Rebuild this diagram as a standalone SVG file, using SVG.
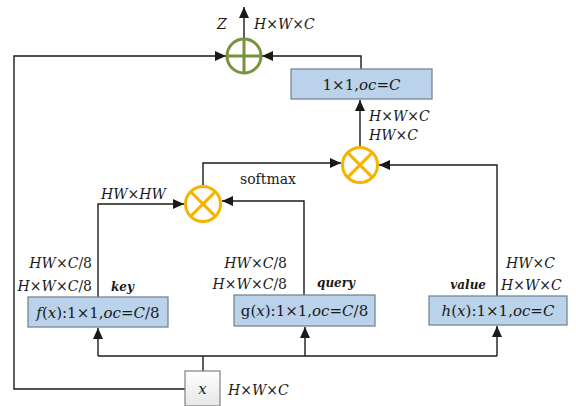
<svg xmlns="http://www.w3.org/2000/svg" width="576" height="406" viewBox="0 0 576 406">
<style>
.ln{fill:none;stroke:#1a1a1a;stroke-width:1.4}
.box{fill:#BAD3EA;stroke:#6F7E8E;stroke-width:1.2}
.t{font-family:"DejaVu Serif","Liberation Serif",serif;font-size:14px;fill:#1a1a1a}
.bt{font-family:"DejaVu Serif","Liberation Serif",serif;font-size:15px;fill:#1a1a1a}
.i{font-style:italic}
.bi{font-family:"DejaVu Serif","Liberation Serif",serif;font-size:12px;font-weight:bold;font-style:italic;fill:#1a1a1a}
</style>
<defs>
<marker id="ah" markerUnits="userSpaceOnUse" markerWidth="12" markerHeight="10" refX="11" refY="5" orient="auto">
<path d="M0,0 L11,5 L0,10 z" fill="#1a1a1a"/>
</marker>
<linearGradient id="xg" x1="0" y1="0" x2="0" y2="1">
<stop offset="0" stop-color="#ffffff"/><stop offset="1" stop-color="#e6e6e6"/>
</linearGradient>
</defs>
<g id="connectors">
<path class="ln" d="M244,39 V7" marker-end="url(#ah)"/>
<path class="ln" d="M185,389 H14 V56 H226" marker-end="url(#ah)"/>
<path class="ln" d="M361,69 V56 H262" marker-end="url(#ah)"/>
<path class="ln" d="M360,147 V100" marker-end="url(#ah)"/>
<path class="ln" d="M203,186 V163 H341" marker-end="url(#ah)"/>
<path class="ln" d="M497,296 V165 H379" marker-end="url(#ah)"/>
<path class="ln" d="M304,295 V201 H222" marker-end="url(#ah)"/>
<path class="ln" d="M98,297 V204 H184" marker-end="url(#ah)"/>
<path class="ln" d="M203,371 V356"/>
<path class="ln" d="M98,356 H497"/>
<path class="ln" d="M98,356 V328" marker-end="url(#ah)"/>
<path class="ln" d="M305,356 V327" marker-end="url(#ah)"/>
<path class="ln" d="M497,356 V326" marker-end="url(#ah)"/>
</g>
<g id="plus">
<circle cx="244" cy="56" r="17" fill="none" stroke="#77933C" stroke-width="3"/>
<path d="M227,56 H261 M244,39 V73" stroke="#77933C" stroke-width="3"/>
</g>
<g id="times-top">
<circle cx="360" cy="165" r="17.5" fill="none" stroke="#F5B400" stroke-width="3"/>
<path d="M347.6,152.6 L372.4,177.4 M372.4,152.6 L347.6,177.4" stroke="#F5B400" stroke-width="3"/>
</g>
<g id="times-left">
<circle cx="203" cy="204" r="17.5" fill="none" stroke="#F5B400" stroke-width="3"/>
<path d="M190.6,191.6 L215.4,216.4 M215.4,191.6 L190.6,216.4" stroke="#F5B400" stroke-width="3"/>
</g>
<g id="conv-out">
<rect class="box" x="291" y="69" width="141" height="30"/>
<text class="bt" x="361.5" y="90" text-anchor="middle">1×1,<tspan class="i">oc</tspan>=<tspan class="i">C</tspan></text>
</g>
<g id="key">
<rect class="box" x="28" y="297" width="140" height="30"/>
<text class="bt" x="98" y="318" text-anchor="middle"><tspan class="i">f</tspan>(<tspan class="i">x</tspan>):1×1,<tspan class="i">oc</tspan>=<tspan class="i">C</tspan>/8</text>
</g>
<g id="query">
<rect class="box" x="234" y="295" width="141" height="31"/>
<text class="bt" x="304.5" y="316" text-anchor="middle">g(<tspan class="i">x</tspan>):1×1,<tspan class="i">oc</tspan>=<tspan class="i">C</tspan>/8</text>
</g>
<g id="value">
<rect class="box" x="429" y="296" width="138" height="29"/>
<text class="bt" x="498" y="316" text-anchor="middle"><tspan class="i">h</tspan>(<tspan class="i">x</tspan>):1×1,<tspan class="i">oc</tspan>=<tspan class="i">C</tspan></text>
</g>
<g id="input">
<rect x="185" y="371" width="35" height="35" fill="url(#xg)" stroke="#808080" stroke-width="1.2"/>
<text class="bt i" x="202.5" y="394" text-anchor="middle">x</text>
</g>
<g id="labels">
<text class="t i" x="217" y="29">Z</text>
<text class="t" x="254" y="29"><tspan class="i">H</tspan>×<tspan class="i">W</tspan>×<tspan class="i">C</tspan></text>
<text class="t" x="369" y="121"><tspan class="i">H</tspan>×<tspan class="i">W</tspan>×<tspan class="i">C</tspan></text>
<text class="t" x="369" y="140"><tspan class="i">HW</tspan>×<tspan class="i">C</tspan></text>
<text class="t" x="240" y="184">softmax</text>
<text class="t" x="101" y="199"><tspan class="i">HW</tspan>×<tspan class="i">HW</tspan></text>
<text class="t" x="92" y="268" text-anchor="end"><tspan class="i">HW</tspan>×<tspan class="i">C</tspan>/8</text>
<text class="t" x="92" y="291" text-anchor="end"><tspan class="i">H</tspan>×<tspan class="i">W</tspan>×<tspan class="i">C</tspan>/8</text>
<text class="bi" x="111" y="291">key</text>
<text class="t" x="287" y="268" text-anchor="end"><tspan class="i">HW</tspan>×<tspan class="i">C</tspan>/8</text>
<text class="t" x="287" y="289" text-anchor="end"><tspan class="i">H</tspan>×<tspan class="i">W</tspan>×<tspan class="i">C</tspan>/8</text>
<text class="bi" x="317" y="287">query</text>
<text class="bi" x="486" y="289" text-anchor="end">value</text>
<text class="t" x="506" y="268"><tspan class="i">HW</tspan>×<tspan class="i">C</tspan></text>
<text class="t" x="501" y="290"><tspan class="i">H</tspan>×<tspan class="i">W</tspan>×<tspan class="i">C</tspan></text>
<text class="t" x="228" y="395"><tspan class="i">H</tspan>×<tspan class="i">W</tspan>×<tspan class="i">C</tspan></text>
</g>
</svg>
